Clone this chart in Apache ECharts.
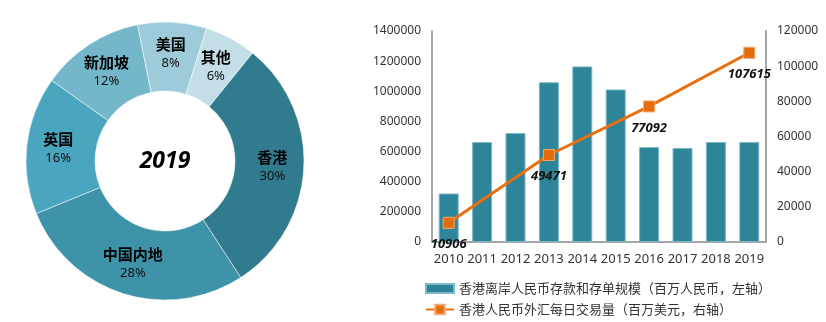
<!DOCTYPE html>
<html><head><meta charset="utf-8">
<script src="https://cdn.jsdelivr.net/npm/echarts@6/dist/echarts.min.js"></script>
<style>html,body{margin:0;padding:0;background:#fff}#c{width:826px;height:322px}</style>
</head><body><div id="c"></div>
<script>
var pieNames = ['香港','中国内地','英国','新加坡','美国','其他'];
var pieValues = [30, 28, 16, 12, 8, 6];
var pieColors = ['#317B8E','#3F93A9','#4AA5BF','#74B7CB','#9ECBD9','#C3DEE6'];
var years = ['2010','2011','2012','2013','2014','2015','2016','2017','2018','2019'];
var deposits = [322000, 663000, 723000, 1060000, 1165000, 1012000, 630000, 624000, 663000, 663000];
var fxVolume = [10906, null, null, 49471, null, null, 77092, null, null, 107615];
var barName = '香港离岸人民币存款和存单规模（百万人民币，左轴）';
var lineName = '香港人民币外汇每日交易量（百万美元，右轴）';

var chart = echarts.init(document.getElementById('c'), null, {renderer:'canvas'});
var font = '"Noto Sans CJK SC","Noto Sans",sans-serif';
var legendText = {fontSize:13, color:'#333', fontFamily:font};
chart.setOption({
  animation:false,
  textStyle:{fontFamily:font},
  graphic:[{type:'text', style:{text:'2019', x:165, y:161, fill:'#000', font:'italic bold 23px "Noto Sans", sans-serif', align:'center', verticalAlign:'middle'}}],
  legend:[
    {left:420, top:277, itemWidth:28, itemHeight:9, textStyle:legendText, data:[{name:barName, icon:'rect'}]},
    {left:420, top:298, itemWidth:28, itemHeight:12, textStyle:legendText, data:[{name:lineName}]}
  ],
  grid:{left:432, right:60, top:31, bottom:80},
  xAxis:{type:'category', data:years,
    axisLine:{lineStyle:{color:'#a6a6a6', width:2}}, axisTick:{show:false},
    axisLabel:{interval:0, fontSize:13, color:'#333', margin:11, fontFamily:'"Noto Sans",sans-serif'}},
  yAxis:[
    {type:'value', min:0, max:1400000, interval:200000, splitLine:{show:false},
     axisLine:{show:true, lineStyle:{color:'#a6a6a6', width:2}}, axisTick:{show:false},
     axisLabel:{formatter:function(v){return String(v);}, fontSize:12, color:'#333', margin:11, fontFamily:'"Noto Sans",sans-serif'}},
    {type:'value', min:0, max:120000, interval:20000, splitLine:{show:false},
     axisLine:{show:true, lineStyle:{color:'#a6a6a6', width:2}}, axisTick:{show:false},
     axisLabel:{formatter:function(v){return String(v);}, fontSize:12, color:'#333', margin:11, fontFamily:'"Noto Sans",sans-serif'}}
  ],
  series:[
    {type:'pie', center:[165,161], radius:[70,139], startAngle:51, clockwise:true,
     data:pieNames.map(function(n,i){return {name:n, value:pieValues[i], itemStyle:{color:pieColors[i]}};}),
     itemStyle:{borderColor:'rgba(255,255,255,0.5)', borderWidth:1},
     label:{position:'inside', formatter:function(p){return '{n|'+p.name+'}\n{p|'+p.value+'%}';},
       rich:{n:{fontSize:15, fontWeight:'bold', color:'#000', lineHeight:20, fontFamily:font},
             p:{fontSize:13, color:'#111', lineHeight:18, fontFamily:'"Noto Sans",sans-serif'}}},
     labelLine:{show:false}, legendHoverLink:false},
    {type:'bar', name:barName, data:deposits, barWidth:20, yAxisIndex:0,
     itemStyle:{color:'#2E8499', borderColor:'#7DB9C8', borderWidth:1}},
    {type:'line', name:lineName, data:fxVolume, yAxisIndex:1, connectNulls:true,
     symbol:'rect', symbolSize:11,
     lineStyle:{color:'#E8700F', width:3},
     itemStyle:{color:'#E46C0A', borderColor:'#F5A66C', borderWidth:1},
     label:{show:true, position:'bottom', distance:9, fontSize:13, fontWeight:'bold', fontStyle:'italic', color:'#111', fontFamily:'"Noto Sans",sans-serif'}}
  ]
});
</script></body></html>
